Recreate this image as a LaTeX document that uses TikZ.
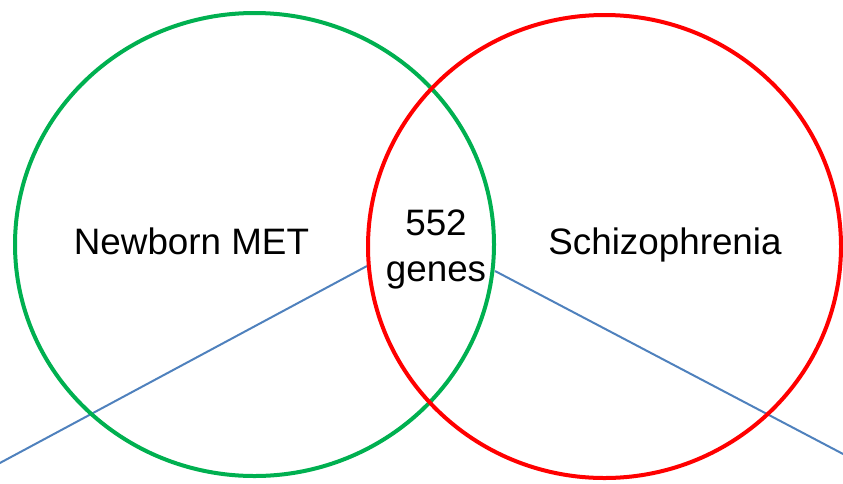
\documentclass[tikz,border=0pt]{standalone}
\usepackage{fontspec}
\setmainfont{Liberation Sans}
\usetikzlibrary{shapes.geometric}
\definecolor{vgreen}{HTML}{00B050}
\definecolor{vred}{HTML}{FF0000}
\definecolor{vblue}{HTML}{4F81BD}
\begin{document}
\begin{tikzpicture}[x=1pt,y=-1pt,
  setcircle/.style={ellipse, draw, line width=4pt, inner sep=0pt, minimum width=#1},
  lbl/.style={font=\fontsize{36.8}{40}\selectfont, anchor=base, inner sep=0pt},
  link/.style={draw=vblue, line width=2pt}]
\useasboundingbox (0,0) rectangle (843,483);
% connectors
\coordinate (l1) at (367,266);
\coordinate (l2) at (-2,464);
\coordinate (r1) at (495,271);
\coordinate (r2) at (845,455);
\draw[link] (l1) -- (l2);
\draw[link] (r1) -- (r2);
% circles
\node[setcircle=479pt, minimum height=463pt, draw=vgreen] (met) at (254.5,244.5) {};
\node[setcircle=473pt, minimum height=463pt, draw=vred] (scz) at (604.5,246.5) {};
% labels
\node[lbl] (tmet) at (191.5,254) {Newborn MET};
\node[lbl] (tscz) at (665,254) {Schizophrenia};
\node[lbl] (tnum) at (436,235) {552};
\node[lbl] (tgen) at (436,281) {genes};
\end{tikzpicture}
\end{document}
